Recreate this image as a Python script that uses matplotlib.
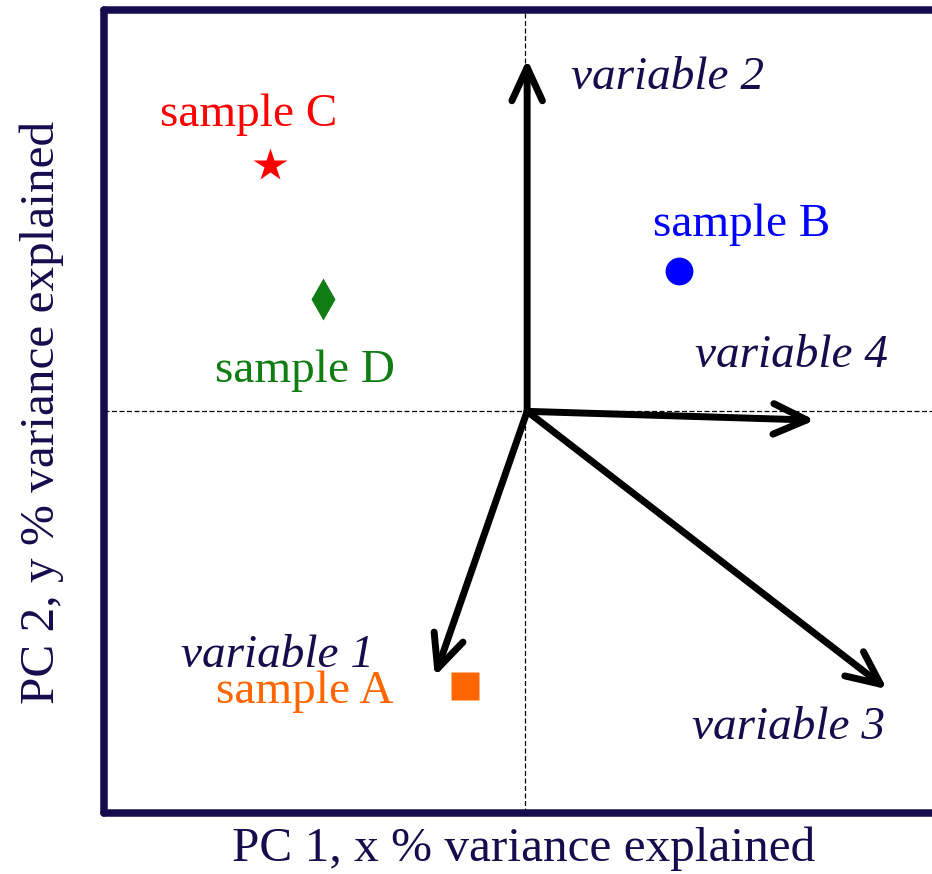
import matplotlib.pyplot as plt

# Sample scores on PC1 / PC2
samples = ['sample A', 'sample B', 'sample C', 'sample D']
score_pc1 = [-0.142, 0.365, -0.605, -0.480]
score_pc2 = [-0.685, 0.349, 0.613, 0.279]

# Variable loadings (arrow tips)
variables = ['variable 1', 'variable 2', 'variable 3', 'variable 4']
load_pc1 = [-0.214, 0.005, 0.859, 0.688]
load_pc2 = [-0.660, 0.877, -0.692, -0.022]

navy = '#140c4c'
sample_style = {
    'sample A': dict(marker='s', color='#ff6600', ms=20),
    'sample B': dict(marker='o', color='#0000ff', ms=20),
    'sample C': dict(marker='*', color='#ff0000', ms=25),
    'sample D': dict(marker='d', color='#0f7d12', ms=21),
}
# where each label sits (centre x, baseline y)
sample_label_pos = {
    'sample A': (-0.522, -0.725),
    'sample B': (0.515, 0.436),
    'sample C': (-0.655, 0.710),
    'sample D': (-0.522, 0.072),
}
variable_label_pos = {
    'variable 1': (-0.588, -0.636),
    'variable 2': (0.337, 0.802),
    'variable 3': (0.626, -0.817),
    'variable 4': (0.631, 0.110),
}

plt.rcParams['font.family'] = ['Liberation Serif', 'DejaVu Serif']

fig = plt.figure(figsize=(9.32, 8.74), dpi=100)
ax = fig.add_axes([0.1111, 0.0698, 0.9045, 0.9191])
ax.set_xlim(-1, 1)
ax.set_ylim(-1, 1)
ax.set_xticks([])
ax.set_yticks([])
for sp in ax.spines.values():
    sp.set_linewidth(5.4)
    sp.set_color(navy)
    sp.set_capstyle('round')
    sp.set_joinstyle('round')

# dashed zero lines
ax.axhline(0, color='black', lw=0.9, ls=(0, (4, 2)), zorder=1)
ax.axvline(0, color='black', lw=0.9, ls=(0, (4, 2)), zorder=1)

# loading arrows
origin = (0.005, 0.0)
for name, lx, ly in zip(variables, load_pc1, load_pc2):
    ax.annotate('', xy=(lx, ly), xytext=origin,
                arrowprops=dict(arrowstyle='->,head_length=1.2,head_width=0.55',
                                lw=5.0, color='black', shrinkA=0, shrinkB=0,
                                mutation_scale=20, capstyle='round',
                                joinstyle='round'),
                zorder=3)
    tx, ty = variable_label_pos[name]
    ax.text(tx, ty, name, color=navy, fontsize=34, style='italic',
            ha='center', va='baseline')

# sample points
for name, sx, sy in zip(samples, score_pc1, score_pc2):
    st = sample_style[name]
    ax.plot(sx, sy, marker=st['marker'], ms=st['ms'], color=st['color'],
            mec='none', ls='none', zorder=4)
    tx, ty = sample_label_pos[name]
    ax.text(tx, ty, name, color=st['color'], fontsize=34,
            ha='center', va='baseline')

fig.text(524 / 932, 0.0149, 'PC 1, x % variance explained', color=navy,
         fontsize=35.5, ha='center', va='baseline')
fig.text(54 / 932, 0.5286, 'PC 2, y % variance explained', color=navy,
         fontsize=35.5, ha='center', va='baseline', rotation=90,
         rotation_mode='anchor')

fig.savefig('out.png', dpi=100)
